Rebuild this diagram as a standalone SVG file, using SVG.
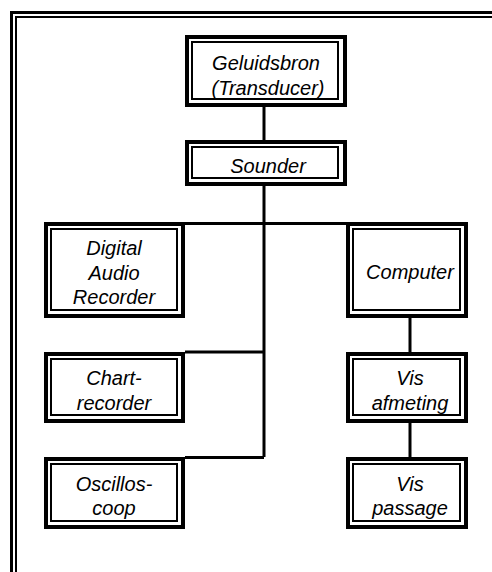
<svg xmlns="http://www.w3.org/2000/svg" width="492" height="572" viewBox="0 0 492 572">
<style>
.o{fill:#fff;stroke:#000;stroke-width:4}
.i{fill:none;stroke:#000;stroke-width:2}
.c{fill:none;stroke:#000;stroke-width:3}
text{font-family:"Liberation Sans",Arial,sans-serif;font-style:italic;font-size:20px;text-anchor:middle;fill:#000}
</style>
<rect width="492" height="572" fill="#fff"/>
<g id="frame">
<path d="M11.5 572V12.5H492" fill="none" stroke="#000" stroke-width="3"/>
<path d="M16 572V17H492" fill="none" stroke="#000" stroke-width="2"/>
</g>
<g id="connectors">
<path class="c" d="M264 107V140"/>
<path class="c" d="M264 186V457"/>
<path class="c" d="M185 223.5H346"/>
<path class="c" d="M185 352H264"/>
<path class="c" d="M185 457.5H264"/>
<path class="c" d="M410 318V352"/>
<path class="c" d="M410 423V457"/>
</g>
<g id="geluidsbron">
<rect class="o" x="187" y="37" width="158" height="68"/>
<rect class="i" x="192" y="42" width="146" height="57"/>
<text x="266" y="70">Geluidsbron</text>
<text x="268" y="95">(Transducer)</text>
</g>
<g id="sounder">
<rect class="o" x="187" y="142" width="158" height="42"/>
<rect class="i" x="192" y="147" width="146" height="31"/>
<text x="268" y="173">Sounder</text>
</g>
<g id="digital-audio-recorder">
<rect class="o" x="46" y="224" width="137" height="92"/>
<rect class="i" x="51" y="229" width="126" height="81"/>
<text x="114" y="255">Digital</text>
<text x="114" y="280">Audio</text>
<text x="114" y="304">Recorder</text>
</g>
<g id="chartrecorder">
<rect class="o" x="46" y="354" width="137" height="67"/>
<rect class="i" x="51" y="359" width="126" height="56"/>
<text x="114" y="385">Chart-</text>
<text x="114" y="410">recorder</text>
</g>
<g id="oscilloscoop">
<rect class="o" x="46" y="459" width="137" height="68"/>
<rect class="i" x="51" y="464" width="126" height="57"/>
<text x="114" y="491">Oscillos-</text>
<text x="114" y="515">coop</text>
</g>
<g id="computer">
<rect class="o" x="348" y="224" width="118" height="92"/>
<rect class="i" x="353" y="229" width="107" height="81"/>
<text x="410" y="279">Computer</text>
</g>
<g id="vis-afmeting">
<rect class="o" x="348" y="354" width="118" height="67"/>
<rect class="i" x="353" y="359" width="107" height="56"/>
<text x="410" y="385">Vis</text>
<text x="410" y="410">afmeting</text>
</g>
<g id="vis-passage">
<rect class="o" x="348" y="459" width="118" height="68"/>
<rect class="i" x="353" y="464" width="107" height="57"/>
<text x="410" y="491">Vis</text>
<text x="410" y="515">passage</text>
</g>
</svg>
